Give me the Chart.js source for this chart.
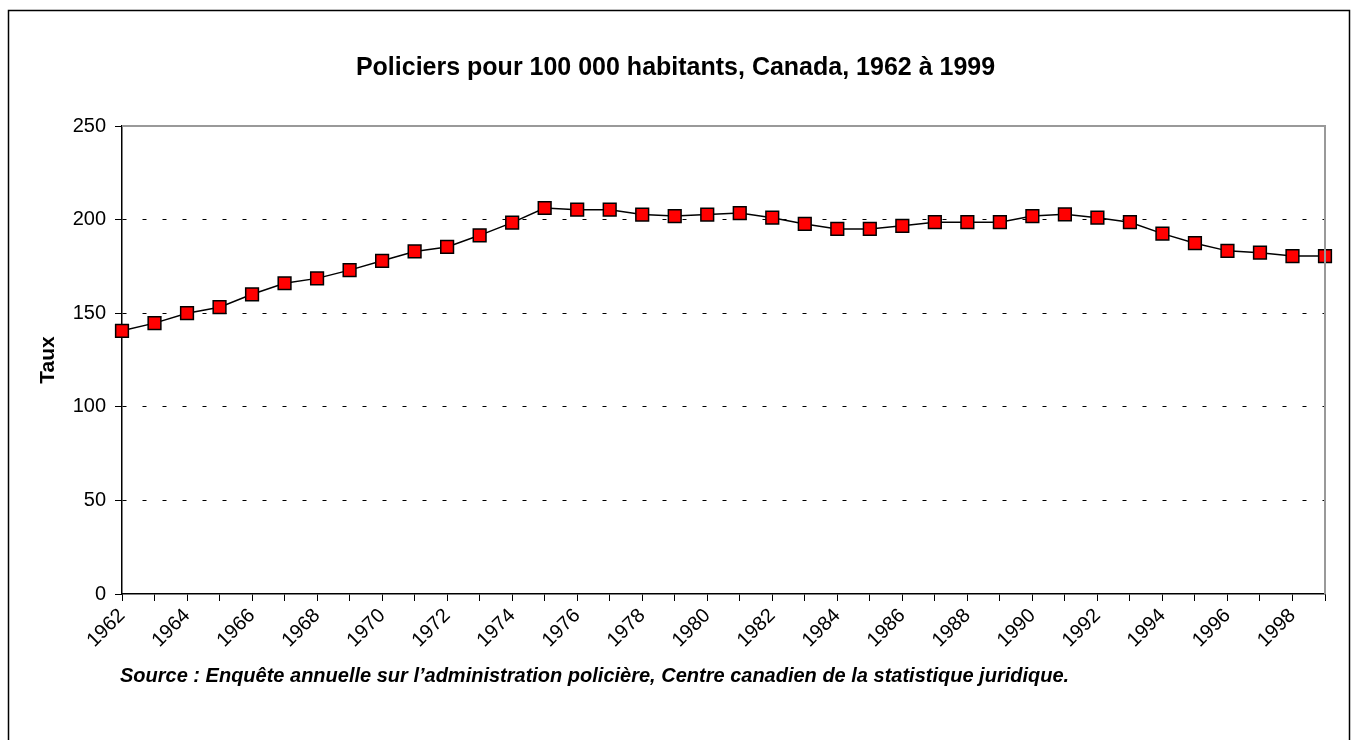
<!DOCTYPE html>
<html>
<head>
<meta charset="utf-8">
<script src="https://cdn.jsdelivr.net/npm/chart.js@4"></script>
<style>
  html, body { margin: 0; padding: 0; background: #fff; }
</style>
</head>
<body>
<canvas id="policeChart" width="1351" height="740"></canvas>
<script>
// annees et taux (policiers pour 100 000 habitants)
var annees = ['1962', '1963', '1964', '1965', '1966', '1967', '1968', '1969', '1970', '1971',
              '1972', '1973', '1974', '1975', '1976', '1977', '1978', '1979', '1980', '1981',
              '1982', '1983', '1984', '1985', '1986', '1987', '1988', '1989', '1990', '1991',
              '1992', '1993', '1994', '1995', '1996', '1997', '1998', '1999'];
var taux = [140.6, 144.7, 150.0, 153.2, 160.1, 166.0, 168.6, 173.0, 178.0, 183.0,
            185.4, 191.6, 198.4, 206.2, 205.3, 205.3, 202.7, 201.9, 202.7, 203.5,
            201.0, 197.7, 195.0, 195.0, 196.7, 198.6, 198.6, 198.6, 201.9, 202.8,
            201.0, 198.6, 192.5, 187.4, 183.3, 182.3, 180.5, 180.5];
var yTicks = [0, 50, 100, 150, 200, 250];
var titre = 'Policiers pour 100 000 habitants, Canada, 1962 à 1999';
var source = 'Source : Enquête annuelle sur l\u2019administration policière, Centre canadien de la statistique juridique.';

var police = 'Liberation Sans, Arial, sans-serif';

// cadre exterieur, bordure grise du graphique et note de source
var cadre = {
	id: 'cadre',
	afterDraw: function(chart) {
		var ctx = chart.ctx, a = chart.chartArea;
		ctx.save();
		ctx.strokeStyle = '#000';
		ctx.lineWidth = 1.5;
		ctx.strokeRect(8.5, 10.5, 1341, 740);
		ctx.strokeStyle = '#999';
		ctx.lineWidth = 2;
		ctx.beginPath();
		ctx.moveTo(a.left, a.top);
		ctx.lineTo(a.right, a.top);
		ctx.lineTo(a.right, a.bottom);
		ctx.stroke();
		ctx.fillStyle = '#000';
		ctx.font = 'italic bold 20px ' + police;
		ctx.textBaseline = 'middle';
		ctx.fillText(source, 120, 676);
		ctx.restore();
	}
};

new Chart(document.getElementById('policeChart'), {
	type: 'line',
	data: {
		labels: annees,
		datasets: [{
			label: 'Taux',
			data: taux,
			borderColor: '#000',
			borderWidth: 1.5,
			backgroundColor: '#ff0000',
			pointStyle: 'rect',
			pointRadius: 9,
			pointBorderColor: '#000',
			pointBorderWidth: 1.5,
			tension: 0
		}]
	},
	options: {
		responsive: false,
		animation: false,
		layout: { padding: 0 },
		plugins: {
			legend: { display: false },
			tooltip: { enabled: false },
			title: {
				display: true,
				text: titre,
				color: '#000',
				font: { family: police, size: 25, weight: 'bold' },
				padding: { top: 53, bottom: 43 }
			}
		},
		scales: {
			x: {
				offset: false,
				afterFit: function(s) { s.height = 146; },
				grid: { drawOnChartArea: false, tickLength: 7, color: '#000', tickColor: '#000' },
				border: { color: '#000', width: 1.5 },
				ticks: {
					autoSkip: false,
					maxRotation: 45,
					minRotation: 45,
					color: '#000',
					font: { family: police, size: 20 },
					callback: function(v, i) { return i % 2 === 0 ? annees[i] : ''; }
				}
			},
			y: {
				min: 0,
				max: 250,
				afterFit: function(s) { s.width = 122; },
				afterBuildTicks: function(s) { s.ticks = yTicks.map(function(v) { return { value: v }; }); },
				grid: {
					color: function(c) { return (c.tick && (c.tick.value === 0 || c.tick.value === 250)) ? 'rgba(0,0,0,0)' : '#000'; },
					tickColor: '#000',
					tickLength: 7,
					tickBorderDash: []
				},
				border: { color: '#000', width: 1.5, dash: [4, 16] },
				ticks: {
					color: '#000',
					padding: 9,
					font: { family: police, size: 20 }
				},
				title: {
					display: true,
					text: 'Taux',
					color: '#000',
					font: { family: police, size: 21, weight: 'bold' },
					padding: { top: 36, bottom: 0 }
				}
			},
			// marge de droite (axe vide)
			droite: {
				position: 'right',
				min: 0,
				max: 250,
				afterFit: function(s) { s.width = 26; },
				grid: { display: false },
				border: { display: false },
				ticks: { display: false }
			}
		}
	},
	plugins: [cadre]
});
</script>
</body>
</html>
